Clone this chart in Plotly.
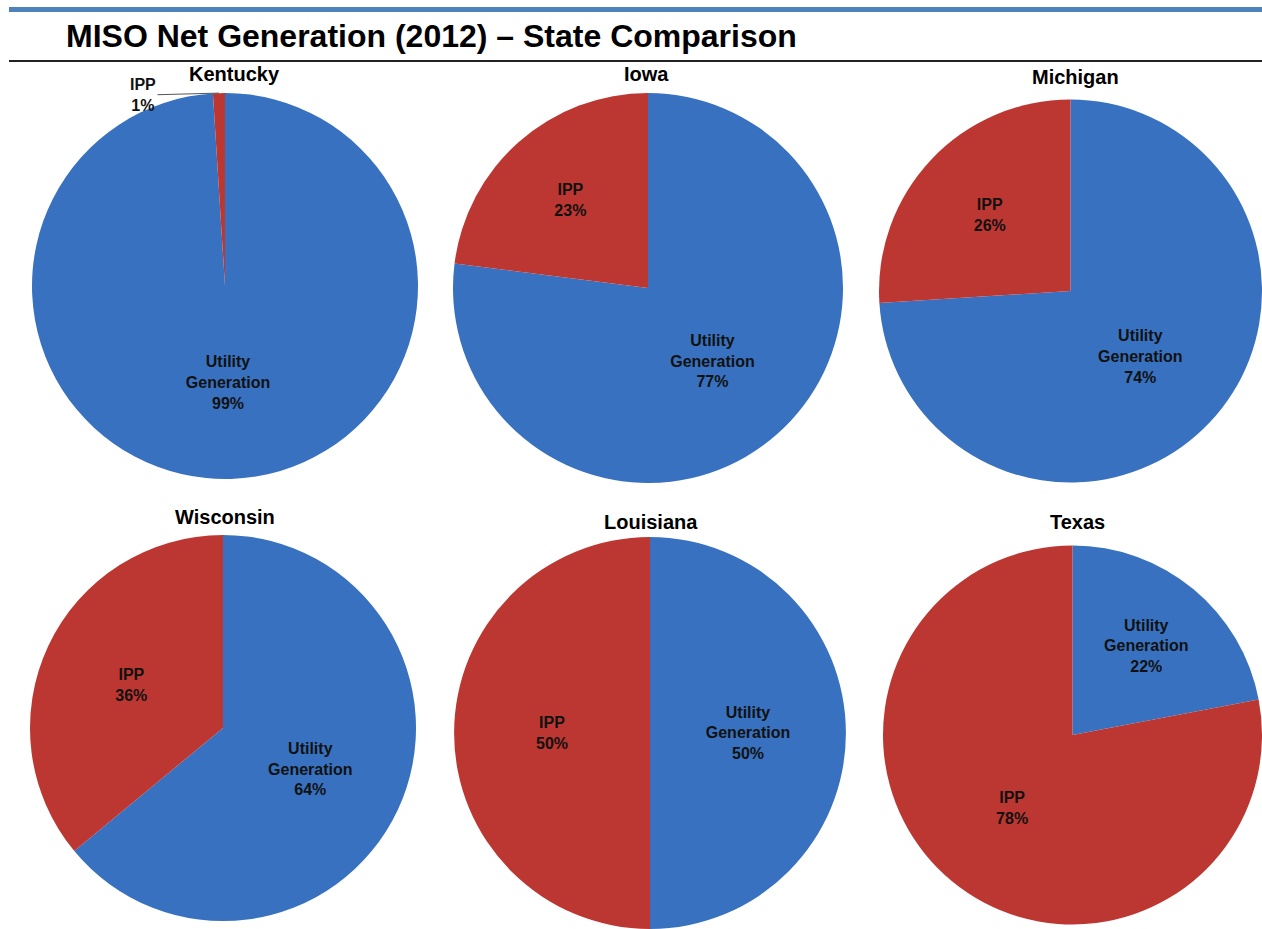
import math
import plotly.graph_objects as go

# ---- data ----
states = ["Kentucky", "Iowa", "Michigan", "Wisconsin", "Louisiana", "Texas"]
categories = ["Utility<br>Generation", "IPP"]
utility_pct = [99, 77, 74, 64, 50, 22]
ipp_pct = [1, 23, 26, 36, 50, 78]
title_text = "MISO Net Generation (2012) – State Comparison"

# ---- layout (pixels) ----
W, H = 1262, 929
BLUE = "#3871bf"
RED = "#bd3732"
TXT = "#111111"
FONT = "Liberation Sans, Arial, sans-serif"

# pie centre/radius in pixels
pie_geom = [
    (225, 286, 193),
    (648, 288, 195),
    (1073, 291, 194),
    (223, 728, 193),
    (650, 735, 198),
    (1075, 735, 192),
]
title_pos = [(234, 74), (646, 74), (1075, 77), (225, 517), (651, 522), (1077, 522)]


def px_domain(cx, cy, r):
    x0, x1 = max(cx - r, 0), min(cx + r, W)
    y0, y1 = max(cy - r, 0), min(cy + r, H)
    return dict(x=[x0 / W, x1 / W], y=[1 - y1 / H, 1 - y0 / H])


fig = go.Figure()
annotations = []
for i, st in enumerate(states):
    vals = [utility_pct[i], ipp_pct[i]]
    small = [v < 5 for v in vals]
    fig.add_trace(go.Pie(
        labels=categories,
        values=vals,
        sort=False,
        direction="clockwise",
        rotation=0,
        marker=dict(colors=[BLUE, RED], line=dict(width=0)),
        texttemplate="<b>%{label}<br>%{percent:.0%}</b>",
        textposition=["none" if s else "inside" for s in small],
        insidetextorientation="horizontal",
        insidetextfont=dict(family=FONT, size=16, color=TXT),
        showlegend=False,
        hoverinfo="label+percent",
        domain=px_domain(*pie_geom[i]),
        name=st,
    ))
    tx, ty = title_pos[i]
    annotations.append(dict(
        text="<b>%s</b>" % st, x=tx / W, y=1 - ty / H, xref="paper", yref="paper",
        showarrow=False, xanchor="center", yanchor="middle",
        font=dict(family=FONT, size=20, color="#000000"),
    ))
    # outside leader label for tiny slices
    for k, s in enumerate(small):
        if not s:
            continue
        total = sum(vals)
        start = sum(vals[:k]) / total
        mid = start + vals[k] / total / 2
        ang = 2 * math.pi * mid
        cx, cy, r = pie_geom[i]
        tipx = cx + r * math.sin(ang)
        tipy = cy - r * math.cos(ang)
        lbl = categories[k].replace("<br>", " ")
        annotations.append(dict(
            text="<b>%s<br>%d%%</b>" % (lbl, round(100 * vals[k] / total)),
            x=tipx / W, y=1 - tipy / H, xref="paper", yref="paper",
            showarrow=True, arrowhead=0, arrowwidth=1, arrowcolor="#555555",
            ax=-76, ay=2, align="center",
            font=dict(family=FONT, size=16, color=TXT),
        ))

# main title
annotations.append(dict(
    text="<b>%s</b>" % title_text, x=64 / W, y=1 - 36 / H, xref="paper", yref="paper",
    showarrow=False, xanchor="left", yanchor="middle",
    font=dict(family=FONT, size=32, color="#000000"),
))

shapes = [
    dict(type="rect", xref="paper", yref="paper", x0=9 / W, x1=1, y0=1 - 12 / H, y1=1 - 7 / H,
         fillcolor="#4f81bd", line=dict(width=0), layer="below"),
    dict(type="line", xref="paper", yref="paper", x0=9 / W, x1=1, y0=1 - 61 / H, y1=1 - 61 / H,
         line=dict(color="#222222", width=2)),
]

fig.update_layout(
    width=W, height=H,
    margin=dict(l=0, r=0, t=0, b=0),
    paper_bgcolor="white", plot_bgcolor="white",
    annotations=annotations, shapes=shapes,
    font=dict(family=FONT),
)

fig.write_html(
    "out.html",
    config={"displayModeBar": False},
    post_script="document.body.style.margin='0';document.body.style.overflow='hidden';",
)
